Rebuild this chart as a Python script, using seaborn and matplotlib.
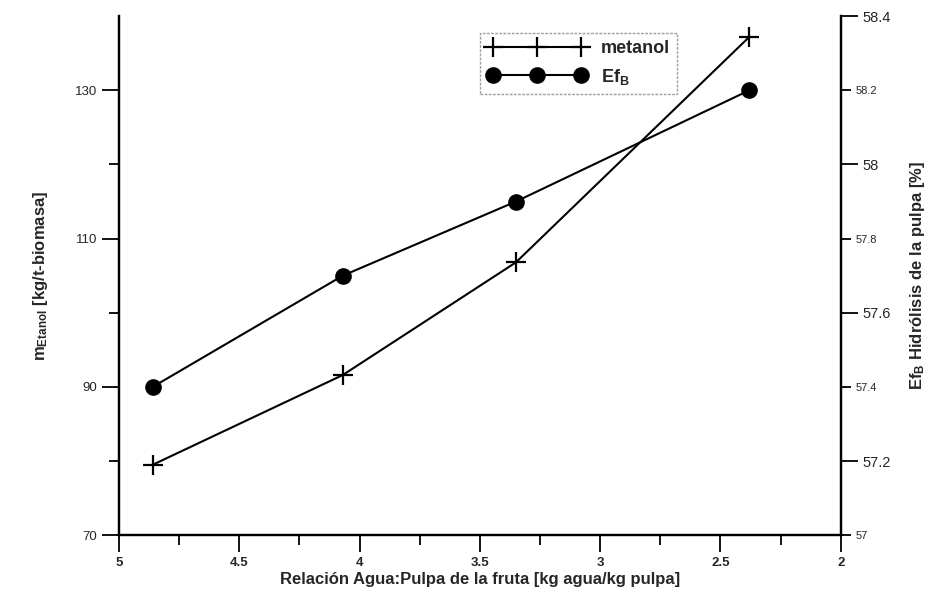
import matplotlib
matplotlib.use("Agg")
import matplotlib.pyplot as plt
import seaborn as sns
from matplotlib.ticker import MultipleLocator, FixedLocator

# data
relacion = [4.86, 4.07, 3.35, 2.38]          # kg agua / kg pulpa
m_etanol = [79.5, 91.6, 106.8, 137.2]        # kg/t-biomasa (left axis)
ef_b = [57.40, 57.70, 57.90, 58.20]          # % (right axis)

left_major = [70, 90, 110, 130]
left_minor = [80, 100, 120]
right_major = [57.2, 57.6, 58.0, 58.4]
right_minor = [57.0, 57.4, 57.8, 58.2]

sns.set_theme(style="ticks")
plt.rcParams['font.family'] = ['Liberation Sans', 'DejaVu Sans']
plt.rcParams['mathtext.fontset'] = 'custom'
plt.rcParams['mathtext.rm'] = 'Liberation Sans:bold'
plt.rcParams['mathtext.default'] = 'rm'

fig = plt.figure(figsize=(9.3, 5.98), dpi=100)
ax = fig.add_axes([0.128, 0.105, 0.776, 0.868])
ax2 = ax.twinx()

sns.lineplot(x=relacion, y=m_etanol, ax=ax, color='black', marker='+',
             markersize=15, markeredgewidth=1.6, markeredgecolor='black',
             linewidth=1.5, label='metanol', legend=False)
sns.lineplot(x=relacion, y=ef_b, ax=ax2, color='black', marker='o',
             markersize=12, markeredgewidth=0, markerfacecolor='black',
             linewidth=1.5, label=r'Ef$_{B}$', legend=False)

ax.set_xlim(5, 2)
ax.set_ylim(70, 140)
ax2.set_ylim(57, 58.4)

ax.xaxis.set_major_locator(MultipleLocator(0.5))
ax.xaxis.set_minor_locator(MultipleLocator(0.25))
ax.set_xticklabels([f"{v:g}" for v in ax.get_xticks()])
ax.yaxis.set_major_locator(FixedLocator(left_major))
ax.yaxis.set_minor_locator(FixedLocator(left_minor))
ax2.yaxis.set_major_locator(FixedLocator(right_major))
ax2.yaxis.set_minor_locator(FixedLocator(right_minor))
ax2.set_yticklabels([f"{v:g}" for v in right_major])
ax2.set_yticklabels([f"{v:g}" for v in right_minor], minor=True)

for a in (ax, ax2):
    a.tick_params(which='major', direction='out', length=12, width=1.3,
                  labelsize=9.5, color='black')
    a.tick_params(which='minor', direction='out', length=7, width=1.3,
                  color='black')
    for s in a.spines.values():
        s.set_linewidth(1.6)
        s.set_color('black')
ax2.tick_params(axis='y', which='major', labelsize=10.5, pad=4)
ax2.tick_params(axis='y', which='minor', labelsize=8, pad=4)
ax.spines['top'].set_visible(False)
ax2.spines['top'].set_visible(False)

ax.set_xlabel("Relación Agua:Pulpa de la fruta [kg agua/kg pulpa]",
              fontsize=12, fontweight='bold', labelpad=2)
ax.set_ylabel(r"m$_{Etanol}$ [kg/t-biomasa]", fontsize=12, fontweight='bold',
              labelpad=18)
ax2.set_ylabel(r"Ef$_{B}$ Hidrólisis de la pulpa [%]", fontsize=12,
               fontweight='bold', labelpad=12)

for lbl in ax.get_xticklabels():
    lbl.set_fontweight('bold')

h1, l1 = ax.get_legend_handles_labels()
h2, l2 = ax2.get_legend_handles_labels()
leg = ax.legend(h1 + h2, l1 + l2, loc='upper left', bbox_to_anchor=(0.5, 0.967),
                borderaxespad=0, numpoints=3, handlelength=5.5,
                frameon=True, fancybox=False, edgecolor='#888888',
                prop={'weight': 'bold', 'size': 13})
leg.get_frame().set_linewidth(1.0)
leg.get_frame().set_linestyle((0, (2, 1)))

fig.savefig("out.png", dpi=100)
